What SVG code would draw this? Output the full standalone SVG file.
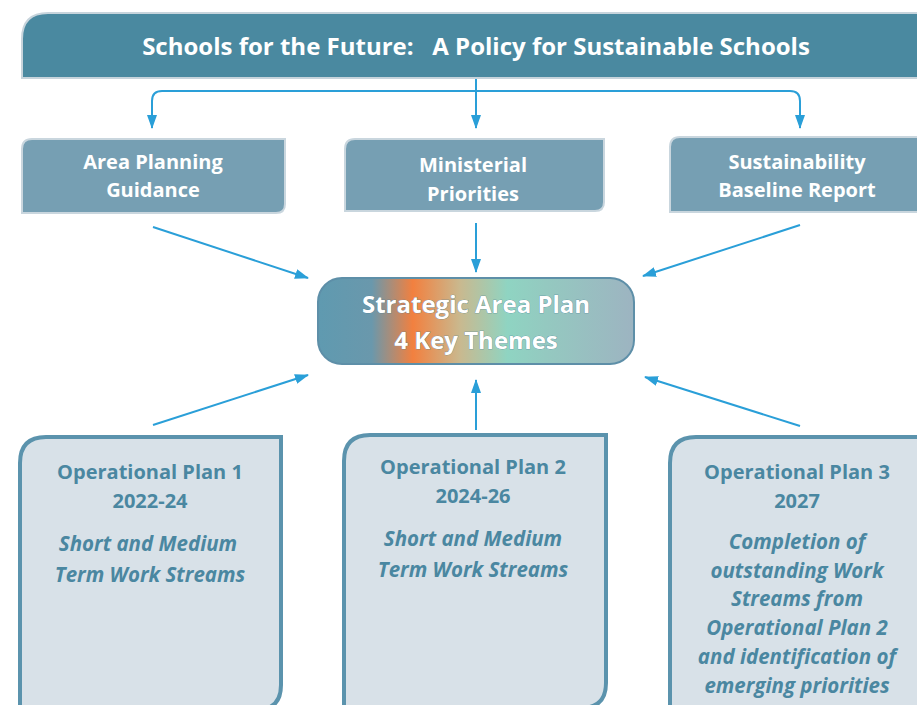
<svg xmlns="http://www.w3.org/2000/svg" width="917" height="705" viewBox="0 0 917 705">
<defs>
<marker id="ah" viewBox="0 0 14 10" refX="13" refY="5" markerWidth="14" markerHeight="10" markerUnits="userSpaceOnUse" orient="auto">
<path d="M0,0 L14,5 L0,10 z" fill="#2a9fd8"/>
</marker>
<linearGradient id="sg" x1="0" y1="0" x2="1" y2="0">
<stop offset="0" stop-color="#5f9ab0"/>
<stop offset="0.17" stop-color="#6a98ac"/>
<stop offset="0.3" stop-color="#f2803f"/>
<stop offset="0.45" stop-color="#c9b98f"/>
<stop offset="0.6" stop-color="#8fd4c2"/>
<stop offset="0.72" stop-color="#94c9c0"/>
<stop offset="1" stop-color="#9db4c1"/>
</linearGradient>
</defs>
<style>
.t{font-family:"Open Sans",Lato,"Liberation Sans",sans-serif;font-weight:bold;text-anchor:middle}
.w{fill:#ffffff;font-size:20px}
.b{fill:#4a87a1;font-size:20px}
.i{font-style:italic;font-size:20.5px}
.top{fill:#769fb3;stroke:#c9d6de;stroke-width:2}
.op{fill:#d8e1e8;stroke:#5b93ad;stroke-width:4}
.c{stroke:#2a9fd8;stroke-width:2;fill:none}
</style>
<g id="title">
<path d="M48,13 H930 V70 Q930,78 918,78 H22 V39 Q22,13 48,13 z" fill="#4a89a0" stroke="#c7d4dc" stroke-width="2"/>
<text class="t" x="476" y="55" fill="#ffffff" font-size="24" xml:space="preserve">Schools for the Future:   A Policy for Sustainable Schools</text>
</g>
<g id="area-planning">
<path class="top" d="M32,139 H285 V204 Q285,213 276,213 H22 V149 Q22,139 32,139 z"/>
<text class="t w" x="153" y="169">Area Planning</text>
<text class="t w" x="153" y="197">Guidance</text>
</g>
<g id="ministerial">
<path class="top" d="M355,139 H604 V202 Q604,211 595,211 H345 V149 Q345,139 355,139 z"/>
<text class="t w" x="473" y="172">Ministerial</text>
<text class="t w" x="473" y="201">Priorities</text>
</g>
<g id="sustainability">
<path class="top" d="M680,137 H930 V212 H670 V147 Q670,137 680,137 z"/>
<text class="t w" x="797" y="169">Sustainability</text>
<text class="t w" x="797" y="197">Baseline Report</text>
</g>
<g id="strategic">
<rect x="318" y="278" width="316" height="86" rx="24" fill="url(#sg)" stroke="#5e8fa8" stroke-width="2"/>
<text class="t" x="476" y="313" font-size="24" fill="#ffffff" stroke="#4a7f96" stroke-width="0.6" paint-order="stroke">Strategic Area Plan</text>
<text class="t" x="476" y="349" font-size="24" fill="#ffffff" stroke="#4a7f96" stroke-width="0.6" paint-order="stroke">4 Key Themes</text>
</g>
<g id="op1">
<path class="op" d="M46,437 H281 V685 Q281,710 256,710 H20 V463 Q20,437 46,437 z"/>
<text class="t b" x="150" y="479">Operational Plan 1</text>
<text class="t b" x="150" y="508">2022-24</text>
<text class="t b i" x="148" y="551">Short and Medium</text>
<text class="t b i" x="150" y="582">Term Work Streams</text>
</g>
<g id="op2">
<path class="op" d="M370,435 H606 V683 Q606,708 581,708 H344 V461 Q344,435 370,435 z"/>
<text class="t b" x="473" y="474">Operational Plan 2</text>
<text class="t b" x="473" y="503">2024-26</text>
<text class="t b i" x="473" y="546">Short and Medium</text>
<text class="t b i" x="473" y="577">Term Work Streams</text>
</g>
<g id="op3">
<path class="op" d="M696,437 H930 V720 H670 V463 Q670,437 696,437 z"/>
<text class="t b" x="797" y="479">Operational Plan 3</text>
<text class="t b" x="797" y="508">2027</text>
<text class="t b i" x="797" y="549">Completion of</text>
<text class="t b i" x="797" y="578">outstanding Work</text>
<text class="t b i" x="797" y="606">Streams from</text>
<text class="t b i" x="797" y="635">Operational Plan 2</text>
<text class="t b i" x="797" y="664">and identification of</text>
<text class="t b i" x="797" y="693">emerging priorities</text>
</g>
<g id="connectors">
<path class="c" d="M152,128 V101 Q152,91 162,91 H790 Q800,91 800,101 V128" marker-end="url(#ah)"/>
<path class="c" d="M152,101 V128" marker-end="url(#ah)"/>
<path class="c" d="M476,79 V128" marker-end="url(#ah)"/>
<path class="c" d="M153,227 L308,278" marker-end="url(#ah)"/>
<path class="c" d="M476,223 V272" marker-end="url(#ah)"/>
<path class="c" d="M800,225 L643,276" marker-end="url(#ah)"/>
<path class="c" d="M153,425 L308,375" marker-end="url(#ah)"/>
<path class="c" d="M476,430 V380" marker-end="url(#ah)"/>
<path class="c" d="M800,426 L645,377" marker-end="url(#ah)"/>
</g>
</svg>
